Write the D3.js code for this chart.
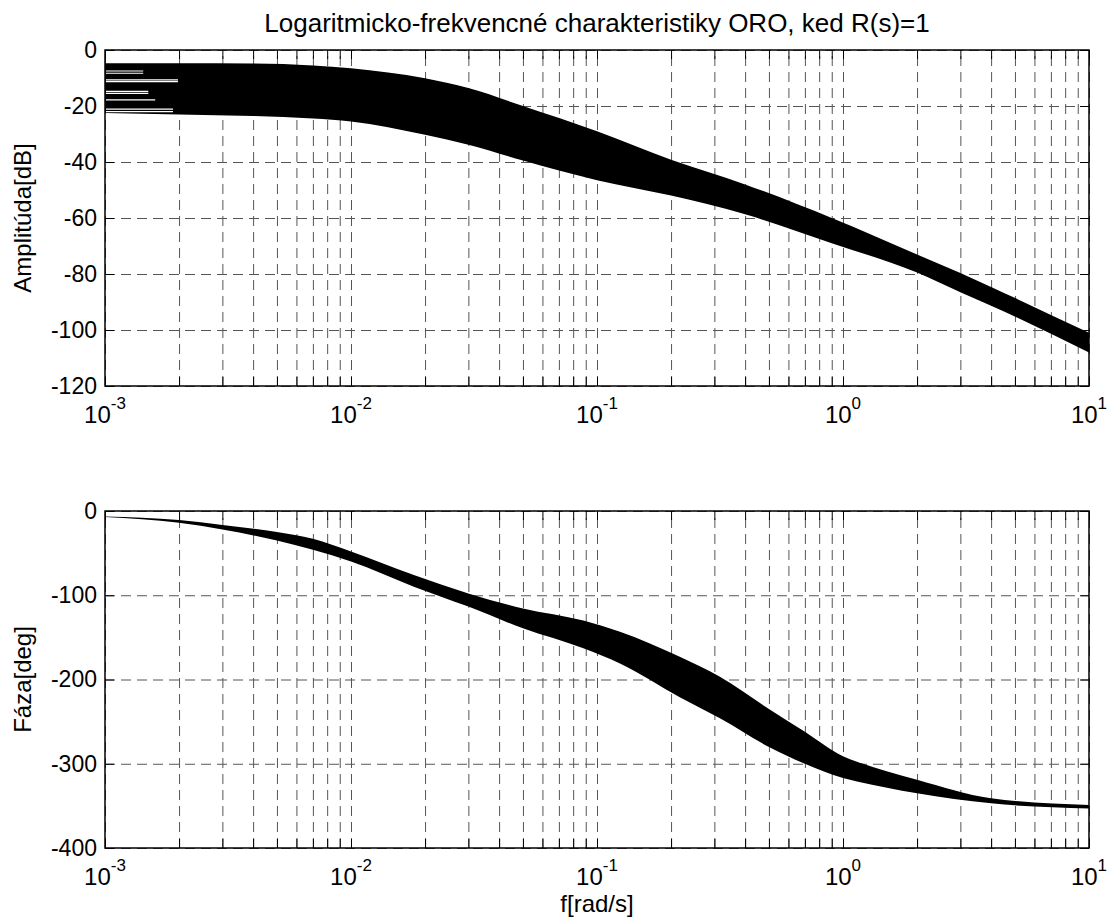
<!DOCTYPE html>
<html>
<head>
<meta charset="utf-8">
<script src="https://cdn.jsdelivr.net/npm/d3@7"></script>
<style>
  body { margin: 0; background: #fff; }
  text { font-family: "Liberation Sans", Arial, Helvetica, sans-serif; fill: #000; }
</style>
</head>
<body>
<div id="chart"></div>
<script>
// frequency points (rad/s)
const ampFreq  = [0.001, 0.002, 0.004, 0.007, 0.01, 0.02, 0.03, 0.05, 0.1, 0.2, 0.4, 0.9, 2, 3, 4, 10];
// upper / lower edge of the family of amplitude curves [dB]
const ampUpper = [-4.7, -4.7, -4.8, -5.5, -6.5, -10.1, -13.6, -20, -29, -39.2, -48, -60, -73, -79.6, -84.6, -101];
const ampLower = [-22.5, -23, -23.6, -24.5, -25.5, -30.3, -33.8, -39.5, -46.5, -52, -58.7, -69, -79.5, -86.5, -91.3, -108];

// white gaps between single curves at the low-frequency end
const gapLevels = [-7.5, -8.3, -10.7, -11.3, -14.8, -15.5, -17.8, -21.1, -22];
const gapEnds   = [0.00143, 0.00143, 0.00198, 0.00198, 0.0015, 0.0015, 0.0016, 0.00189, 0.00189];

// phase band [deg]
const phaseFreq  = [0.001, 0.002, 0.003, 0.005, 0.007, 0.01, 0.018, 0.03, 0.05, 0.088, 0.124, 0.217, 0.316, 0.5, 0.7, 1, 1.14, 2, 4, 10];
const phaseUpper = [-6.5, -10.7, -16.6, -25, -33, -48, -76, -97.8, -115.6, -130, -143.3, -173, -196.7, -235, -262, -291, -297.5, -319, -341, -349];
const phaseLower = [-7, -14, -22, -35, -46, -60, -89.8, -113.5, -139.3, -163, -180.9, -221, -246, -280, -300, -317, -321, -335, -347, -353];

const ampTicks = [0, -20, -40, -60, -80, -100, -120];
const phaseTicks = [0, -100, -200, -300, -400];
const decades = [-3, -2, -1, 0, 1];

const titleText = "Logaritmicko-frekvencné charakteristiky ORO, ked R(s)=1";
const xLabel = "f[rad/s]";

const W = 1109, H = 922;
const left = 105, right = 1089;
const tickFont = 23;

const svg = d3.select("#chart").append("svg")
  .attr("width", W)
  .attr("height", H);

svg.append("rect").attr("width", W).attr("height", H).attr("fill", "#fff");

const x = d3.scaleLog().domain([1e-3, 10]).range([left, right]);

// major + minor ticks for every decade
const allTicks = [];
decades.forEach(d => {
  for (let m = 1; m <= 9; m++) {
    const v = m * Math.pow(10, d);
    if (v <= 10 + 1e-9) allTicks.push(v);
  }
});

function drawPanel(opt) {
  const y = d3.scaleLinear().domain(opt.domain).range([opt.bottom, opt.top]);
  const h = opt.bottom - opt.top;
  const g = svg.append("g");

  // vertical grid
  g.append("g")
    .attr("transform", "translate(0," + opt.bottom + ")")
    .call(d3.axisBottom(x).tickValues(allTicks).tickSize(-h).tickFormat(""))
    .call(a => a.select(".domain").remove())
    .selectAll("line")
    .attr("stroke", "#555")
    .attr("stroke-dasharray", "10,6");

  // horizontal grid
  g.append("g")
    .attr("transform", "translate(" + left + ",0)")
    .call(d3.axisLeft(y).tickValues(opt.ticks).tickSize(-(right - left)).tickFormat(""))
    .call(a => a.select(".domain").remove())
    .selectAll("line")
    .attr("stroke", "#555")
    .attr("stroke-dasharray", "10,6");

  // band of curves
  const rows = opt.freq.map((f, i) => ({ f: f, hi: opt.upper[i], lo: opt.lower[i] }));
  g.append("path")
    .datum(rows)
    .attr("d", d3.area()
      .x(d => x(d.f))
      .y0(d => y(d.lo))
      .y1(d => y(d.hi))
      .curve(d3.curveMonotoneX))
    .attr("fill", "#000");

  if (opt.gaps) {
    g.selectAll(".gap")
      .data(opt.gaps)
      .join("line")
      .attr("class", "gap")
      .attr("x1", x(1e-3) + 1)
      .attr("x2", d => x(d.end))
      .attr("y1", d => y(d.level))
      .attr("y2", d => y(d.level))
      .attr("stroke", "#fff")
      .attr("stroke-width", 1.2);
  }

  // ticks on all four sides, pointing inward
  g.append("g")
    .attr("transform", "translate(0," + opt.bottom + ")")
    .call(d3.axisBottom(x).tickValues(allTicks).tickSize(-9).tickFormat(""));
  g.append("g")
    .attr("transform", "translate(0," + opt.top + ")")
    .call(d3.axisTop(x).tickValues(allTicks).tickSize(-9).tickFormat(""));
  g.append("g")
    .attr("transform", "translate(" + left + ",0)")
    .call(d3.axisLeft(y).tickValues(opt.ticks).tickSize(-9).tickPadding(8).tickFormat(d => String(d)))
    .call(a => a.selectAll("text").style("font-size", tickFont + "px").attr("fill", "#000"));
  g.append("g")
    .attr("transform", "translate(" + right + ",0)")
    .call(d3.axisRight(y).tickValues(opt.ticks).tickSize(-9).tickFormat(""));

  g.selectAll(".domain").remove();

  // 10^n labels
  const lab = g.selectAll(".xlab")
    .data(decades)
    .join("text")
    .attr("class", "xlab")
    .attr("x", d => x(Math.pow(10, d)))
    .attr("y", opt.bottom + 37)
    .attr("text-anchor", "middle")
    .style("font-size", "24px");
  lab.append("tspan").text("10");
  lab.append("tspan")
    .attr("dy", -14)
    .style("font-size", "17px")
    .text(d => String(d));

  // box
  g.append("rect")
    .attr("x", left)
    .attr("y", opt.top)
    .attr("width", right - left)
    .attr("height", h)
    .attr("fill", "none")
    .attr("stroke", "#000")
    .attr("stroke-width", 1.5);

  // y label
  g.append("text")
    .attr("transform", "translate(31," + (opt.top + opt.bottom) / 2 + ") rotate(-90)")
    .attr("text-anchor", "middle")
    .style("font-size", "24px")
    .text(opt.label);
}

drawPanel({
  top: 50, bottom: 386,
  domain: [-120, 0], ticks: ampTicks,
  freq: ampFreq, upper: ampUpper, lower: ampLower,
  gaps: gapLevels.map((l, i) => ({ level: l, end: gapEnds[i] })),
  label: "Amplitúda[dB]"
});

drawPanel({
  top: 511, bottom: 848,
  domain: [-400, 0], ticks: phaseTicks,
  freq: phaseFreq, upper: phaseUpper, lower: phaseLower,
  label: "Fáza[deg]"
});

svg.append("text")
  .attr("x", (left + right) / 2)
  .attr("y", 32)
  .attr("text-anchor", "middle")
  .style("font-size", "26px")
  .text(titleText);

svg.append("text")
  .attr("x", (left + right) / 2)
  .attr("y", 912)
  .attr("text-anchor", "middle")
  .style("font-size", "24px")
  .text(xLabel);
</script>
</body>
</html>
